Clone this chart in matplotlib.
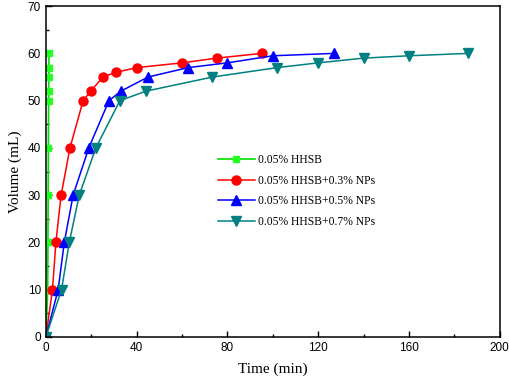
import matplotlib
matplotlib.use("Agg")
import matplotlib.pyplot as plt
from matplotlib.ticker import MultipleLocator

x_hhsb = [0, 0.8, 0.9, 1.0, 1.1, 1.2, 1.2, 1.3, 1.3, 1.4]
y_hhsb = [0, 10, 20, 30, 40, 50, 52, 55, 57, 60]

x_np03 = [0, 2.9, 4.4, 6.7, 10.6, 16.4, 19.7, 25.2, 30.8, 40.2, 60, 75.2, 95]
y_np03 = [0, 10, 20, 30, 40, 50, 52, 55, 56, 57, 58, 59, 60]

x_np05 = [0, 5.4, 8.1, 12, 18.9, 27.8, 33, 45, 62.7, 80, 100, 127]
y_np05 = [0, 10, 20, 30, 40, 50, 52, 55, 57, 58, 59.5, 60]

x_np07 = [0, 6.9, 10.3, 14.7, 22, 32.6, 44, 73.4, 102, 120, 140, 160, 186]
y_np07 = [0, 10, 20, 30, 40, 50, 52, 55, 57, 58, 59, 59.5, 60]

labels = ["0.05% HHSB", "0.05% HHSB+0.3% NPs", "0.05% HHSB+0.5% NPs", "0.05% HHSB+0.7% NPs"]

fig = plt.figure(figsize=(5.1, 3.85), dpi=100)
ax = fig.add_axes([0.090, 0.125, 0.890, 0.859])

ax.plot(x_hhsb, y_hhsb, color="#00e000", marker="s", ms=5, mfc="#22ff22", mec="#22ff22", lw=1.2, label=labels[0])
ax.plot(x_np03, y_np03, color="#ff0000", marker="o", ms=6.5, lw=1.1, label=labels[1])
ax.plot(x_np05, y_np05, color="#0000ff", marker="^", ms=6.5, lw=1.1, label=labels[2])
ax.plot(x_np07, y_np07, color="#008080", marker="v", ms=6.5, lw=1.1, label=labels[3])

ax.set_xlim(0, 200)
ax.set_ylim(0, 70)
ax.xaxis.set_major_locator(MultipleLocator(40))
ax.xaxis.set_minor_locator(MultipleLocator(20))
ax.yaxis.set_major_locator(MultipleLocator(10))
ax.yaxis.set_minor_locator(MultipleLocator(5))
ax.tick_params(which="both", direction="in", top=False, right=False, labelsize=8.5)
ax.tick_params(which="major", length=4, width=1)
ax.tick_params(which="minor", length=2.5, width=1)
for lbl in ax.get_xticklabels() + ax.get_yticklabels():
    lbl.set_family(["Liberation Sans", "DejaVu Sans"])
for sp in ax.spines.values():
    sp.set_linewidth(1.1)

ax.set_xlabel("Time (min)", family="Liberation Serif", fontsize=11, labelpad=6)
ax.set_ylabel("Volume (mL)", family="Liberation Serif", fontsize=11, labelpad=4)

leg = ax.legend(loc="upper left", bbox_to_anchor=(0.355, 0.585), frameon=False,
                prop={"family": "Liberation Serif", "size": 8.4}, handlelength=3.2,
                labelspacing=0.75, handletextpad=0.25)

fig.savefig("out.png", dpi=100)
